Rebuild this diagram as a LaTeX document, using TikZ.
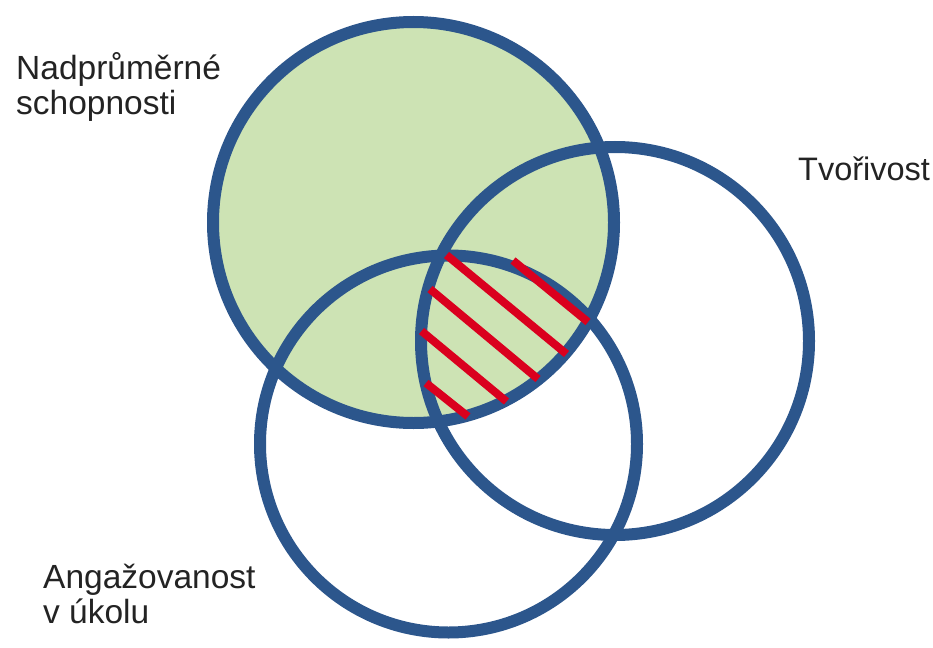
\documentclass[tikz,border=0pt]{standalone}
\usepackage{fontspec}
\setmainfont{Liberation Sans}
\definecolor{vblue}{RGB}{44,86,140}
\definecolor{vgreen}{RGB}{205,227,180}
\definecolor{vred}{RGB}{218,0,30}
\definecolor{vtext}{RGB}{35,35,35}
\begin{document}
\begin{tikzpicture}[x=1pt,y=-1pt,
  ring/.style={draw=vblue,line width=12pt},
  hatchline/.style={draw=vred,line width=8pt},
  lbl/.style={font=\fontsize{33.5}{35}\selectfont, text=vtext, anchor=base west, inner sep=0pt}]
\useasboundingbox (0,0) rectangle (933,647);
\coordinate (A) at (413.5,222.5);
\coordinate (C) at (615,341);
\coordinate (E) at (448.5,444);
\fill[vgreen] (A) circle[radius=200.5];
\draw[ring] (A) circle[radius=200.5];
\draw[ring] (C) circle[radius=194];
\draw[ring] (E) circle[radius=188.5];
\draw[hatchline] (513,260.5) -- (588,322);
\draw[hatchline] (446.5,255) -- (566.5,354);
\draw[hatchline] (430,289) -- (538,379);
\draw[hatchline] (421.5,331) -- (506.5,401.5);
\draw[hatchline] (426,383) -- (468,416.5);
\node[lbl] (ab1) at (16,80) {Nadprůměrné};
\node[lbl] (ab2) at (16,115) {schopnosti};
\node[lbl, font=\fontsize{32.5}{35}\selectfont] (cr) at (798,180) {Tvořivost};
\node[lbl] (en1) at (43,588) {Angažovanost};
\node[lbl] (en2) at (43,623) {v úkolu};
\end{tikzpicture}
\end{document}
